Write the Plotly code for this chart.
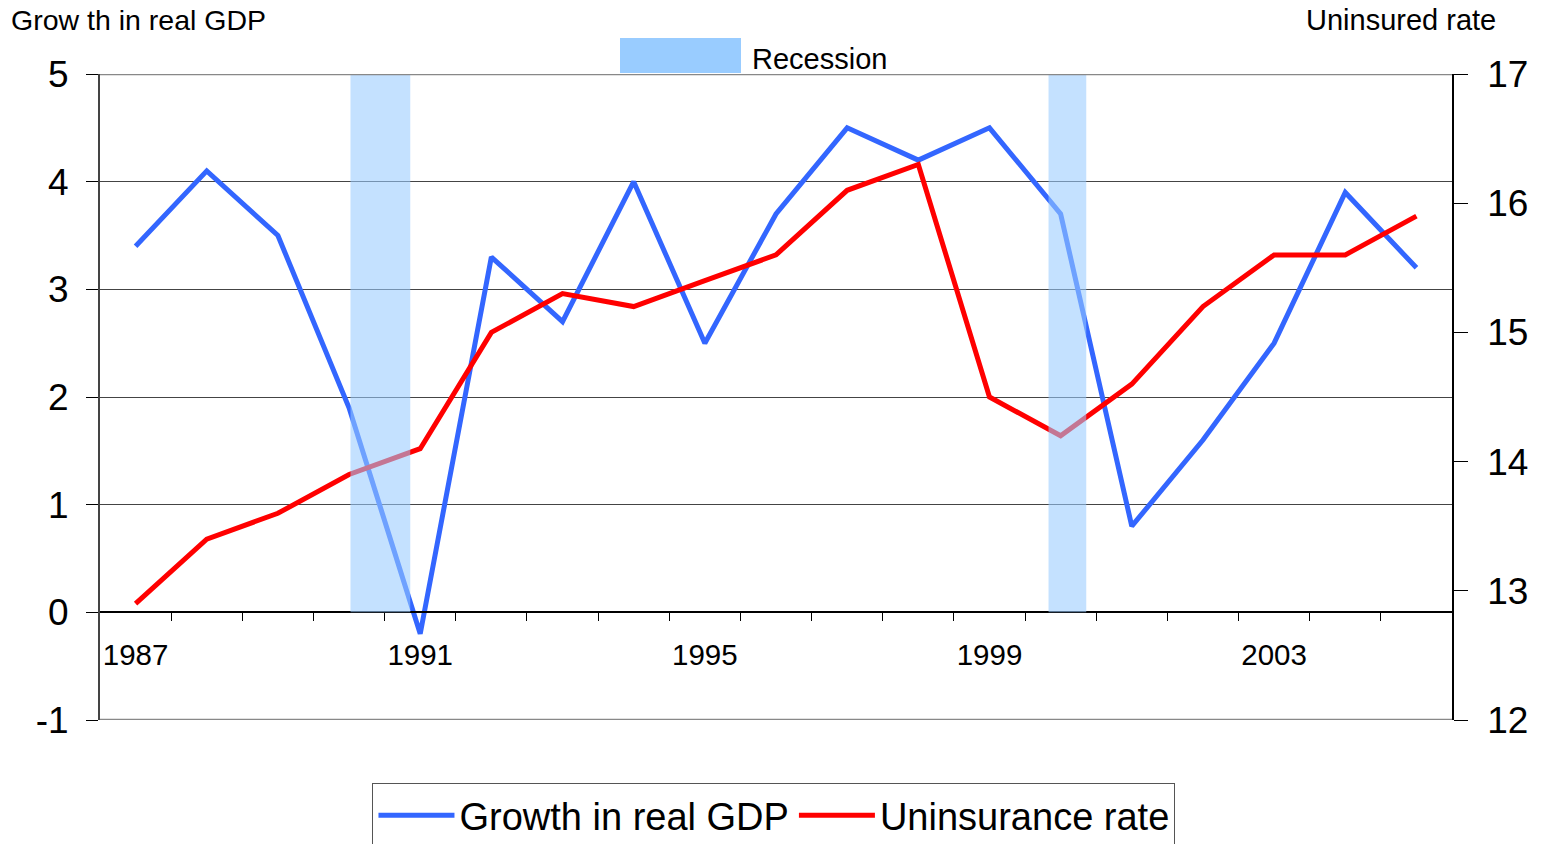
import plotly.graph_objects as go

years = list(range(1987, 2006))
gdp_growth = [3.4, 4.1, 3.5, 1.9, -0.2, 3.3, 2.7, 4.0, 2.5, 3.7, 4.5, 4.2, 4.5, 3.7, 0.8, 1.6, 2.5, 3.9, 3.2]
uninsured = [12.9, 13.4, 13.6, 13.9, 14.1, 15.0, 15.3, 15.2, 15.4, 15.6, 16.1, 16.3, 14.5, 14.2, 14.6, 15.2, 15.6, 15.6, 15.9]
recession_start = [1990.02, 1999.83]
recession_end = [1990.86, 2000.36]
x_label_years = [1987, 1991, 1995, 1999, 2003]
x_boundaries = [y + 0.5 for y in range(1987, 2005)]
left_ticks = [-1, 0, 1, 2, 3, 4, 5]
left_tick_text = ["-1", "0", "1", "2", "3", "4", "5"]
right_ticks = [12, 13, 14, 15, 16, 17]

FONT = "Liberation Sans, Arial, sans-serif"
BLUE = "#3366FF"
RED = "#FF0000"

fig = go.Figure()
fig.add_trace(go.Scatter(x=years, y=gdp_growth, name="Growth in real GDP", mode="lines",
                         line=dict(color=BLUE, width=5), yaxis="y"))
fig.add_trace(go.Scatter(x=years, y=uninsured, name="Uninsurance rate", mode="lines",
                         line=dict(color=RED, width=5), yaxis="y2"))

for s, e in zip(recession_start, recession_end):
    fig.add_shape(type="rect", xref="x", yref="y", x0=s, x1=e, y0=0, y1=5,
                  fillcolor="#99CCFF", opacity=0.58, line=dict(width=0), layer="above")

# plot frame top and bottom lines
fig.add_shape(type="line", xref="paper", yref="y", x0=0, x1=1, y0=5, y1=5,
              line=dict(color="#888888", width=2.5), layer="above")
fig.add_shape(type="line", xref="paper", yref="y", x0=0, x1=1, y0=-1, y1=-1,
              line=dict(color="#888888", width=2.5), layer="above")

# Recession legend key
fig.add_shape(type="rect", xref="paper", yref="paper",
              x0=(620 - 100) / 1352, x1=(741 - 100) / 1352,
              y0=(720 - 73) / 646, y1=(720 - 38) / 646,
              fillcolor="#99CCFF", line=dict(width=0))
fig.add_annotation(text="Recession", xref="paper", yref="paper",
                   x=(750 - 100) / 1352, y=(720 - 59) / 646, xanchor="left", yanchor="middle",
                   showarrow=False, font=dict(family=FONT, size=29, color="black"))

# axis titles
fig.add_annotation(text="Grow th in real GDP", xref="paper", yref="paper",
                   x=-91 / 1352, y=(720 - 20) / 646, xanchor="left", yanchor="middle",
                   showarrow=False, font=dict(family=FONT, size=28.5, color="black"))
fig.add_annotation(text="Uninsured rate", xref="paper", yref="paper",
                   x=(1498 - 100) / 1352, y=(720 - 20) / 646, xanchor="right", yanchor="middle",
                   showarrow=False, font=dict(family=FONT, size=29, color="black"))

fig.update_layout(
    width=1542, height=844,
    margin=dict(l=100, r=90, t=74, b=124, autoexpand=False),
    paper_bgcolor="white", plot_bgcolor="white",
    font=dict(family=FONT, color="black"),
    showlegend=True,
    legend=dict(orientation="h", x=0.4985, xanchor="center", y=(720 - 783) / 646, yanchor="top",
                bordercolor="#555555", borderwidth=1, bgcolor="white",
                font=dict(family=FONT, size=38, color="black"), itemwidth=76),
    xaxis=dict(range=[1986.5, 2005.5], anchor="free", position=1 / 6,
               tickmode="array", tickvals=x_label_years, ticktext=[str(v) for v in x_label_years],
               ticks="outside", ticklen=0, ticklabelstandoff=17,
               tickfont=dict(family=FONT, size=29.5, color="black"),
               showline=True, linecolor="black", linewidth=1.5, showgrid=False, zeroline=False,
               minor=dict(tickmode="array", tickvals=x_boundaries, ticks="outside", ticklen=8,
                          tickcolor="black", tickwidth=1, showgrid=False)),
    yaxis=dict(range=[-1, 5], tickmode="array", tickvals=left_ticks, ticktext=left_tick_text,
               ticks="outside", ticklen=12, tickcolor="black", tickwidth=1,
               ticklabelstandoff=10,
               tickfont=dict(family=FONT, size=37, color="black"),
               showline=True, linecolor="#444444", linewidth=2,
               showgrid=True, gridcolor="#444444", gridwidth=1, zeroline=False),
    yaxis2=dict(range=[12, 17], overlaying="y", side="right", anchor="x",
                tickmode="array", tickvals=right_ticks,
                ticks="outside", ticklen=14, tickcolor="black", tickwidth=1,
                ticklabelstandoff=12,
                tickfont=dict(family=FONT, size=37, color="black"),
                showline=True, linecolor="black", linewidth=1.5, showgrid=False, zeroline=False),
    yaxis3=dict(range=[12, 17], overlaying="y", side="right", anchor="x",
                tickmode="array", tickvals=right_ticks, showticklabels=False,
                ticks="inside", ticklen=12, tickcolor="black", tickwidth=1,
                showline=False, showgrid=False, zeroline=False),
)

fig.write_html("out.html", config={"displayModeBar": False},
               post_script="document.body.style.margin='0';document.body.style.overflow='hidden';")
